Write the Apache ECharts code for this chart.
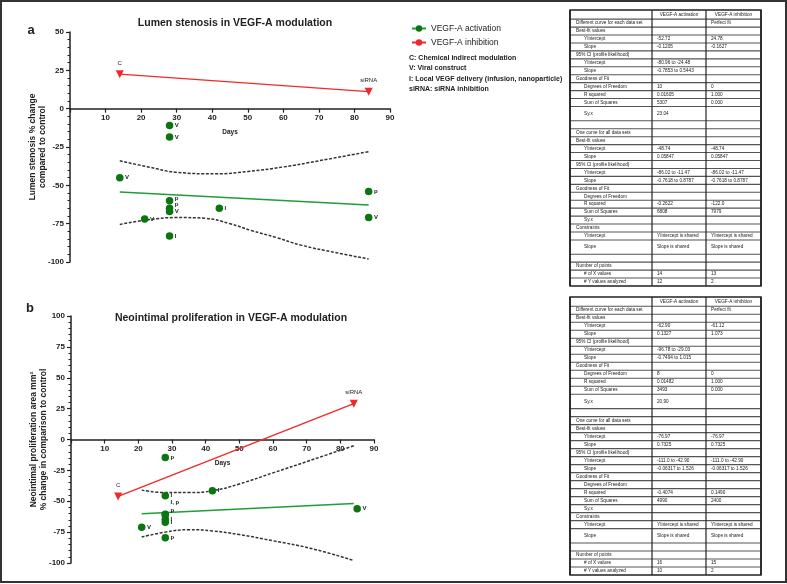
<!DOCTYPE html>
<html><head><meta charset="utf-8">
<script src="https://cdn.jsdelivr.net/npm/echarts@6/dist/echarts.min.js"></script>
<style>html,body{margin:0;padding:0;background:#fff}#c{width:787px;height:584px}</style>
</head><body><div id="c"></div><script>
// ---------- DATA ----------
const seriesNames = ['VEGF-A activation', 'VEGF-A inhibition'];
const notes = ['C: Chemical indirect modulation', 'V: Viral construct', 'I: Local VEGF delivery (infusion, nanoparticle)', 'siRNA: siRNA inhibition'];

// Panel a: lumen stenosis
const lumenActivation = [[28,-11],[28,-18.5],[14,-45],[28,-60],[28,-65],[28,-67],[42,-65],[21,-72],[28,-83],[84,-54],[84,-71]];
const lumenActivationTags = ['V','V','V','p','p','V','I','V','I','p','V'];
const lumenInhibition = [[14,22.5],[84,11.1]];
const lumenInhibitionTags = ['C','siRNA'];
const lumenActivationFit = [[14,-54.4],[84,-62.8]];
const lumenUpperBand = [[14,-34],[22,-38],[30,-41.5],[41,-42.5],[50,-41],[60,-38],[70,-34],[84,-28]];
const lumenLowerBand = [[14,-75.5],[22,-72.5],[30,-71],[38,-71.5],[45,-75],[51,-79.5],[58,-84],[65,-89],[75,-94],[84,-98]];

// Panel b: neointimal proliferation
const neoActivation = [[28,-14.5],[28,-45.5],[42,-41.5],[28,-61],[28,-60.5],[28,-64.5],[28,-67],[21,-71],[28,-79.5],[85,-56]];
const neoActivationTags = ['p','I','I','I, p','p','I','I','V','p','V'];
const neoInhibition = [[14,-46.1],[84,29]];
const neoInhibitionTags = ['C','siRNA'];
const neoActivationFit = [[21,-60.1],[84,-51.8]];
const neoUpperBand = [[21,-41],[28,-43],[35,-43],[42,-41.5],[50,-36],[60,-27],[71,-17],[84,-5]];
const neoLowerBand = [[21,-79],[28,-75],[35,-73],[42,-74],[50,-77],[60,-82],[71,-88],[84,-98]];

// Tables
const tableHeader = ['', 'VEGF-A activation', 'VEGF-A inhibition'];
const lumenTableRows = [
 ['Different curve for each data set','','Perfect fit'],
 ['Best-fit values','',''],
 ['  YIntercept','-52.72','24.78'],
 ['  Slope','-0.1205','-0.1627'],
 ['95% CI (profile likelihood)','',''],
 ['  YIntercept','-80.96 to -24.48',''],
 ['  Slope','-0.7853 to 0.5443',''],
 ['Goodness of Fit','',''],
 ['  Degrees of Freedom','10','0'],
 ['  R squared','0.01605','1.000'],
 ['  Sum of Squares','5307','0.000'],
 ['  Sy.x','23.04',''],
 ['','',''],
 ['One curve for all data sets','',''],
 ['Best-fit values','',''],
 ['  YIntercept','-48.74','-48.74'],
 ['  Slope','0.05847','0.05847'],
 ['95% CI (profile likelihood)','',''],
 ['  YIntercept','-86.02 to -11.47','-86.02 to -11.47'],
 ['  Slope','-0.7618 to 0.8787','-0.7618 to 0.8787'],
 ['Goodness of Fit','',''],
 ['  Degrees of Freedom','',''],
 ['  R squared','-0.2622','-122.0'],
 ['  Sum of Squares','6808','7979'],
 ['  Sy.x','',''],
 ['Constraints','',''],
 ['  YIntercept','YIntercept is shared','YIntercept is shared'],
 ['  Slope','Slope is shared','Slope is shared'],
 ['','',''],
 ['Number of points','',''],
 ['  # of X values','14','13'],
 ['  # Y values analyzed','12','2']
];
const neoTableRows = [
 ['Different curve for each data set','','Perfect fit'],
 ['Best-fit values','',''],
 ['  YIntercept','-62.90','-61.12'],
 ['  Slope','0.1327','1.073'],
 ['95% CI (profile likelihood)','',''],
 ['  YIntercept','-96.78 to -29.03',''],
 ['  Slope','-0.7494 to 1.015',''],
 ['Goodness of Fit','',''],
 ['  Degrees of Freedom','8','0'],
 ['  R squared','0.01482','1.000'],
 ['  Sum of Squares','3493','0.000'],
 ['  Sy.x','20.90',''],
 ['','',''],
 ['One curve for all data sets','',''],
 ['Best-fit values','',''],
 ['  YIntercept','-76.97','-76.97'],
 ['  Slope','0.7325','0.7325'],
 ['95% CI (profile likelihood)','',''],
 ['  YIntercept','-111.0 to -42.90','-111.0 to -42.90'],
 ['  Slope','-0.06317 to 1.526','-0.06317 to 1.526'],
 ['Goodness of Fit','',''],
 ['  Degrees of Freedom','',''],
 ['  R squared','-0.4074','0.1490'],
 ['  Sum of Squares','4990','2400'],
 ['  Sy.x','',''],
 ['Constraints','',''],
 ['  YIntercept','YIntercept is shared','YIntercept is shared'],
 ['  Slope','Slope is shared','Slope is shared'],
 ['','',''],
 ['Number of points','',''],
 ['  # of X values','16','15'],
 ['  # Y values analyzed','10','2']
];

// ---------- STYLE / LAYOUT ----------
const FONT = 'Liberation Sans, Arial, sans-serif';
const GREEN_PT = '#0b760f', GREEN_LN = '#1f9e38', RED = '#f0282a', BAND = '#333';
const labelTweaks = { a: {3:[0,-2], 4:[0,-4]}, b: {3:[0,-12], 4:[0,-4]} };
const grids = [
  { left: 70, top: 32, width: 320, height: 230, outerBoundsMode: 'none' },
  { left: 71, top: 316, width: 303, height: 247, outerBoundsMode: 'none' }
];
const yRanges = [[-100, 50], [-100, 100]];

function pointData(arr, tags, tw) {
  return arr.map((v, i) => ({ value: v, tag: tags[i], label: tw[i] ? { offset: tw[i] } : undefined }));
}
function tagLabel(extra) {
  return Object.assign({ show: true, position: 'right', distance: 1.5, fontSize: 6, fontWeight: 'bold',
    color: '#222', fontFamily: FONT, formatter: p => p.data.tag }, extra || {});
}

function panelSeries(idx, act, actTags, tw, fit, up, low, inh, inhTags) {
  return [
    { type: 'line', xAxisIndex: idx, yAxisIndex: idx, data: up, smooth: 0.45, symbol: 'none', silent: true,
      lineStyle: { color: BAND, width: 1.5, type: [3, 1.6] }, z: 2 },
    { type: 'line', xAxisIndex: idx, yAxisIndex: idx, data: low, smooth: 0.45, symbol: 'none', silent: true,
      lineStyle: { color: BAND, width: 1.5, type: [3, 1.6] }, z: 2 },
    { type: 'line', xAxisIndex: idx, yAxisIndex: idx, data: fit, symbol: 'none',
      lineStyle: { color: GREEN_LN, width: 1.5 }, z: 3 },
    { type: 'line', xAxisIndex: idx, yAxisIndex: idx, data: pointData(inh, inhTags, {}),
      symbol: 'triangle', symbolRotate: 180, symbolSize: 8, itemStyle: { color: RED, opacity: 1 },
      lineStyle: { color: RED, width: 1.3 }, z: 4,
      label: tagLabel({ position: 'top', distance: 4, fontWeight: 'normal', fontSize: 6 }) },
    { type: 'scatter', xAxisIndex: idx, yAxisIndex: idx, data: pointData(act, actTags, tw),
      symbolSize: 7.5, itemStyle: { color: GREEN_PT, opacity: 1 }, z: 5, label: tagLabel() }
  ];
}

function xAxisCfg(idx) {
  // place axis line at y = 0 of the value axis (offset from grid bottom)
  const r = yRanges[idx];
  const zeroOffset = -grids[idx].height * (0 - r[0]) / (r[1] - r[0]);
  return { type: 'value', gridIndex: idx, min: 0, max: 90, interval: 10, position: 'bottom', offset: zeroOffset,
    name: 'Days', nameLocation: 'middle', nameGap: 20, nameMoveOverlap: false,
    nameTextStyle: { fontSize: 6.5, fontWeight: 'bold', color: '#222', fontFamily: FONT },
    axisLine: { onZero: false, lineStyle: { color: '#222', width: 1.5 } },
    axisTick: { show: true, length: 4, lineStyle: { color: '#222', width: 1.2 } },
    axisLabel: { margin: 5, fontSize: 8, fontWeight: 'bold', color: '#222', fontFamily: FONT,
      formatter: v => v === 0 ? '' : String(v) },
    splitLine: { show: false } };
}
function yAxisCfg(idx, name) {
  return { type: 'value', gridIndex: idx, min: yRanges[idx][0], max: yRanges[idx][1], interval: 25,
    name: name, nameLocation: 'middle', nameGap: 22, nameMoveOverlap: false,
    nameTextStyle: { fontSize: 8.5, fontWeight: 'bold', color: '#222', fontFamily: FONT, lineHeight: 10 },
    axisLine: { show: true, onZero: false, lineStyle: { color: '#222', width: 1.5 } },
    axisTick: { show: true, length: 4, lineStyle: { color: '#222', width: 1.2 } },
    minorTick: { show: true, splitNumber: 5, length: 2.5, lineStyle: { color: '#222', width: 1 } },
    axisLabel: { margin: 6, fontSize: 8, fontWeight: 'bold', color: '#222', fontFamily: FONT },
    splitLine: { show: false } };
}

function buildTable(x0, yTop, yBot, header, rows) {
  const cols = [x0, x0 + 82, x0 + 136, x0 + 191];
  const all = [header].concat(rows);
  const units = all.map((r, i) => i === 0 ? 1.15 :
    ((r[0].trim() === 'Sy.x' && r[1] !== '') || r[1] === 'Slope is shared') ? 1.8 : 1);
  const total = units.reduce((a, b) => a + b, 0);
  const u = (yBot - yTop) / total;
  const ch = [];
  let y = yTop;
  const ts = { fontSize: 4.7, fill: '#1a1a1a', fontFamily: FONT, verticalAlign: 'middle' };
  all.forEach((r, i) => {
    const h = units[i] * u, cy = y + h / 2;
    if (i > 0) ch.push({ type: 'line', shape: { x1: cols[0], y1: y, x2: cols[3], y2: y }, style: { stroke: '#555', lineWidth: 1.1 } });
    if (i === 0) {
      ch.push({ type: 'text', x: (cols[1] + cols[2]) / 2, y: cy, style: Object.assign({}, ts, { text: r[1], align: 'center' }) });
      ch.push({ type: 'text', x: (cols[2] + cols[3]) / 2, y: cy, style: Object.assign({}, ts, { text: r[2], align: 'center' }) });
    } else {
      const ind = r[0].startsWith('  ');
      ch.push({ type: 'text', x: cols[0] + (ind ? 14 : 6), y: cy, style: Object.assign({}, ts, { text: r[0].trim(), align: 'left' }) });
      ch.push({ type: 'text', x: cols[1] + 5, y: cy, style: Object.assign({}, ts, { text: r[1], align: 'left' }) });
      ch.push({ type: 'text', x: cols[2] + 5, y: cy, style: Object.assign({}, ts, { text: r[2], align: 'left' }) });
    }
    y += h;
  });
  cols.forEach((cx, k) => ch.push({ type: 'line', shape: { x1: cx, y1: yTop, x2: cx, y2: yBot },
    style: { stroke: '#222', lineWidth: (k === 0 || k === 3) ? 1.5 : 1.2 } }));
  ch.push({ type: 'rect', shape: { x: cols[0], y: yTop, width: cols[3] - cols[0], height: yBot - yTop },
    style: { fill: 'none', stroke: '#222', lineWidth: 1.5 } });
  return { type: 'group', children: ch, silent: true };
}

const noteY = [58, 68.5, 79, 89.5];
const graphics = [
  { type: 'rect', shape: { x: 1, y: 1, width: 785, height: 581 }, style: { fill: 'none', stroke: '#333', lineWidth: 2 }, silent: true },
  { type: 'text', x: 31, y: 30, style: { text: 'a', fontSize: 13, fontWeight: 'bold', fill: '#222', fontFamily: FONT, align: 'center', verticalAlign: 'middle' } },
  { type: 'text', x: 30, y: 308, style: { text: 'b', fontSize: 13, fontWeight: 'bold', fill: '#222', fontFamily: FONT, align: 'center', verticalAlign: 'middle' } },
  buildTable(570, 10, 286, tableHeader, lumenTableRows),
  buildTable(570, 297, 575, tableHeader, neoTableRows)
].concat(notes.map((t, i) => ({ type: 'text', x: 409, y: noteY[i],
  style: { text: t, fontSize: 7, fontWeight: 'bold', fill: '#222', fontFamily: FONT, verticalAlign: 'middle' } })));

const option = {
  backgroundColor: '#fff',
  animation: false,
  title: [
    { text: 'Lumen stenosis in VEGF-A modulation', left: 230, top: 13, textAlign: 'center',
      textStyle: { fontSize: 10.5, fontWeight: 'bold', color: '#222', fontFamily: FONT } },
    { text: 'Neointimal proliferation in VEGF-A modulation', left: 226, top: 308, textAlign: 'center',
      textStyle: { fontSize: 10.5, fontWeight: 'bold', color: '#222', fontFamily: FONT } }
  ],
  legend: { left: 406, top: 19, orient: 'vertical', itemWidth: 14, itemHeight: 8, itemGap: 5,
    textStyle: { fontSize: 8.5, color: '#222', fontFamily: FONT }, data: seriesNames, selectedMode: false },
  grid: grids,
  xAxis: [xAxisCfg(0), xAxisCfg(1)],
  yAxis: [
    yAxisCfg(0, 'Lumen stenosis % change\ncompared to control'),
    yAxisCfg(1, 'Neointimal proliferation area mm²\n% change in comparison to control')
  ],
  graphic: graphics,
  series: [].concat(
    panelSeries(0, lumenActivation, lumenActivationTags, labelTweaks.a, lumenActivationFit, lumenUpperBand, lumenLowerBand, lumenInhibition, lumenInhibitionTags),
    panelSeries(1, neoActivation, neoActivationTags, labelTweaks.b, neoActivationFit, neoUpperBand, neoLowerBand, neoInhibition, neoInhibitionTags),
    [
      { name: seriesNames[0], type: 'line', xAxisIndex: 0, yAxisIndex: 0, data: [], symbol: 'circle', symbolSize: 7,
        itemStyle: { color: GREEN_PT }, lineStyle: { color: GREEN_LN, width: 1.5 } },
      { name: seriesNames[1], type: 'line', xAxisIndex: 0, yAxisIndex: 0, data: [], symbol: 'circle', symbolSize: 7,
        itemStyle: { color: RED }, lineStyle: { color: RED, width: 1.5 } }
    ])
};
const chart = echarts.init(document.getElementById('c'), null, { renderer: 'canvas' });
chart.setOption(option);
</script></body></html>
